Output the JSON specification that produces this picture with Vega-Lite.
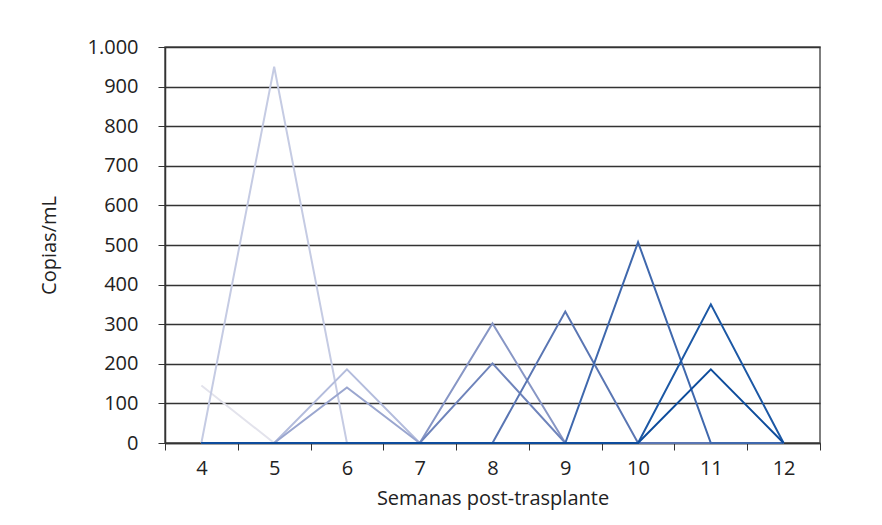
{
  "$schema": "https://vega.github.io/schema/vega-lite/v6.json",
  "width": 655,
  "height": 396,
  "autosize": {"type": "none"},
  "padding": {"left": 165, "top": 47, "right": 62, "bottom": 82},
  "background": "white",
  "config": {"view": {"stroke": "#555555", "strokeWidth": 1.5}, "font": "Open Sans"},
  "data": {"values": [
    {"s":"s01","w":4,"v":145},{"s":"s01","w":5,"v":0},{"s":"s01","w":6,"v":0},{"s":"s01","w":7,"v":0},{"s":"s01","w":8,"v":0},{"s":"s01","w":9,"v":0},{"s":"s01","w":10,"v":0},{"s":"s01","w":11,"v":0},{"s":"s01","w":12,"v":0},
    {"s":"s02","w":4,"v":0},{"s":"s02","w":5,"v":950},{"s":"s02","w":6,"v":0},{"s":"s02","w":7,"v":0},{"s":"s02","w":8,"v":0},{"s":"s02","w":9,"v":0},{"s":"s02","w":10,"v":0},{"s":"s02","w":11,"v":0},{"s":"s02","w":12,"v":0},
    {"s":"s03","w":4,"v":0},{"s":"s03","w":5,"v":0},{"s":"s03","w":6,"v":186},{"s":"s03","w":7,"v":0},{"s":"s03","w":8,"v":0},{"s":"s03","w":9,"v":0},{"s":"s03","w":10,"v":0},{"s":"s03","w":11,"v":0},{"s":"s03","w":12,"v":0},
    {"s":"s04","w":4,"v":0},{"s":"s04","w":5,"v":0},{"s":"s04","w":6,"v":140},{"s":"s04","w":7,"v":0},{"s":"s04","w":8,"v":0},{"s":"s04","w":9,"v":0},{"s":"s04","w":10,"v":0},{"s":"s04","w":11,"v":0},{"s":"s04","w":12,"v":0},
    {"s":"s05","w":4,"v":0},{"s":"s05","w":5,"v":0},{"s":"s05","w":6,"v":0},{"s":"s05","w":7,"v":0},{"s":"s05","w":8,"v":302},{"s":"s05","w":9,"v":0},{"s":"s05","w":10,"v":0},{"s":"s05","w":11,"v":0},{"s":"s05","w":12,"v":0},
    {"s":"s06","w":4,"v":0},{"s":"s06","w":5,"v":0},{"s":"s06","w":6,"v":0},{"s":"s06","w":7,"v":0},{"s":"s06","w":8,"v":201},{"s":"s06","w":9,"v":0},{"s":"s06","w":10,"v":0},{"s":"s06","w":11,"v":0},{"s":"s06","w":12,"v":0},
    {"s":"s07","w":4,"v":0},{"s":"s07","w":5,"v":0},{"s":"s07","w":6,"v":0},{"s":"s07","w":7,"v":0},{"s":"s07","w":8,"v":0},{"s":"s07","w":9,"v":332},{"s":"s07","w":10,"v":0},{"s":"s07","w":11,"v":0},{"s":"s07","w":12,"v":0},
    {"s":"s08","w":4,"v":0},{"s":"s08","w":5,"v":0},{"s":"s08","w":6,"v":0},{"s":"s08","w":7,"v":0},{"s":"s08","w":8,"v":0},{"s":"s08","w":9,"v":0},{"s":"s08","w":10,"v":507},{"s":"s08","w":11,"v":0},{"s":"s08","w":12,"v":0},
    {"s":"s09","w":4,"v":0},{"s":"s09","w":5,"v":0},{"s":"s09","w":6,"v":0},{"s":"s09","w":7,"v":0},{"s":"s09","w":8,"v":0},{"s":"s09","w":9,"v":0},{"s":"s09","w":10,"v":0},{"s":"s09","w":11,"v":350},{"s":"s09","w":12,"v":0},
    {"s":"s10","w":4,"v":0},{"s":"s10","w":5,"v":0},{"s":"s10","w":6,"v":0},{"s":"s10","w":7,"v":0},{"s":"s10","w":8,"v":0},{"s":"s10","w":9,"v":0},{"s":"s10","w":10,"v":0},{"s":"s10","w":11,"v":186},{"s":"s10","w":12,"v":0}
  ]},
  "mark": {"type": "line", "strokeWidth": 2},
  "encoding": {
    "x": {
      "field": "w", "type": "ordinal", "bandPosition": 0.5,
      "scale": {"type": "band", "paddingInner": 0, "paddingOuter": 0},
      "axis": {
        "title": "Semanas post-trasplante", "labelAngle": 0, "tickBand": "extent",
        "tickSize": 7, "tickColor": "#333333", "domainColor": "#333333", "domainWidth": 1.5,
        "labelFontSize": 20, "labelColor": "#222222", "labelPadding": 8, "labelFont": "Open Sans",
        "titleFontSize": 20, "titleFontWeight": "normal", "titleColor": "#222222", "titlePadding": 10, "titleFont": "Open Sans",
        "grid": false
      }
    },
    "y": {
      "field": "v", "type": "quantitative",
      "scale": {"domain": [0, 1000], "nice": false},
      "axis": {
        "title": "Copias/mL", "values": [0,100,200,300,400,500,600,700,800,900,1000],
        "labelExpr": "replace(format(datum.value, ',d'), ',', '.')",
        "grid": true, "gridColor": "#333333", "gridWidth": 1.3,
        "tickSize": 7, "tickColor": "#333333", "domainColor": "#333333", "domainWidth": 1.5,
        "labelFontSize": 20, "labelColor": "#222222", "labelPadding": 20, "labelFont": "Open Sans",
        "titleFontSize": 20, "titleFontWeight": "normal", "titleColor": "#222222", "titlePadding": 28, "titleFont": "Open Sans"
      }
    },
    "color": {
      "field": "s", "type": "nominal", "legend": null,
      "scale": {
        "domain": ["s01","s02","s03","s04","s05","s06","s07","s08","s09","s10"],
        "range": ["#e3e3ec","#c5cbe3","#b3bcdc","#9aa6cf","#8796c5","#6f84bb","#5a76b3","#3f68ad","#1c58a5","#0d4c9c"]
      }
    }
  }
}
